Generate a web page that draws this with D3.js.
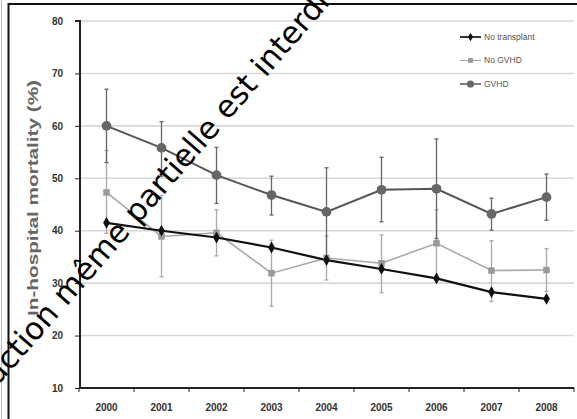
<!DOCTYPE html>
<html>
<head>
<meta charset="utf-8">
<script src="https://cdn.jsdelivr.net/npm/d3@7"></script>
<style>
	body { margin: 0; background: #fff; }
	svg { display: block; }
</style>
</head>
<body>
<div id="chart"></div>
<script>
//--------------------------------------------------
// data
//--------------------------------------------------

var years = ["2000", "2001", "2002", "2003", "2004", "2005", "2006", "2007", "2008"]
var yTicks = [10, 20, 30, 40, 50, 60, 70, 80]
var seriesNames = ["No transplant", "No GVHD", "GVHD"]

var noTransplant = [41.5, 40.0, 38.7, 36.8, 34.4, 32.7, 30.9, 28.3, 27.0]

var noGvhd     = [47.3, 38.9, 39.6, 31.9, 34.8, 33.8, 37.6, 32.4, 32.5]
var noGvhdLow  = [39.5, 31.2, 35.2, 25.6, 30.6, 28.2, 31.0, 26.5, 28.4]
var noGvhdHigh = [55.3, 46.7, 44.0, 38.2, 39.0, 39.2, 44.0, 38.1, 36.6]

var gvhd     = [60.0, 55.8, 50.6, 46.8, 43.6, 47.8, 48.0, 43.2, 46.4]
var gvhdLow  = [53.0, 50.4, 45.2, 43.0, 35.2, 41.7, 38.5, 40.1, 42.0]
var gvhdHigh = [67.0, 60.8, 55.9, 50.4, 52.0, 54.0, 57.5, 46.2, 50.8]

var watermark = ["Reprodu", "ction même partielle est interdite"]

//--------------------------------------------------
// svg and scales
//--------------------------------------------------

var width = 577,
	height = 419

var svg = d3.select("#chart").append("svg")
	.attr("width", width)
	.attr("height", height)

var x = d3.scaleBand()
	.domain(years)
	.range([79, 574])

var y = d3.scaleLinear()
	.domain([10, 80])
	.range([388, 21])

// frame of the scanned figure
svg.append("line")
	.attr("x1", 1.5).attr("x2", 1.5).attr("y1", 0).attr("y2", height)
	.style("stroke", "#bbb").style("stroke-width", 1)
svg.append("line")
	.attr("x1", 8).attr("x2", width).attr("y1", 4).attr("y2", 4)
	.style("stroke", "#111").style("stroke-width", 2)
svg.append("line")
	.attr("x1", 8.5).attr("x2", 8.5).attr("y1", 3).attr("y2", height)
	.style("stroke", "#111").style("stroke-width", 2)

// gridlines
svg.append("g")
	.selectAll("line")
	.data(yTicks.filter(function(d) { return d > 10 }))
	.enter()
	.append("line")
	.attr("x1", 80)
	.attr("x2", 574)
	.attr("y1", function(d) { return y(d) })
	.attr("y2", function(d) { return y(d) })
	.style("stroke", "#d8d8d8")
	.style("stroke-width", 1.6)

//--------------------------------------------------
// axes
//--------------------------------------------------

var yAxis = svg.append("g")
	.attr("transform", "translate(80,0)")
	.call(d3.axisLeft(y).tickValues(yTicks).tickSize(5).tickPadding(12))

var xAxis = svg.append("g")
	.attr("transform", "translate(0,388)")
	.call(d3.axisBottom(x).tickSize(0).tickPadding(16))

// tick marks between the categories
xAxis.selectAll(".sep")
	.data(years.concat(["end"]))
	.enter()
	.append("line")
	.attr("class", "sep")
	.attr("x1", function(d, i) { return 79 + i * x.step() })
	.attr("x2", function(d, i) { return 79 + i * x.step() })
	.attr("y1", 0)
	.attr("y2", 4)
	.style("stroke", "#222")

svg.selectAll(".domain")
	.style("stroke", "#222")
	.style("stroke-width", 2)
yAxis.select(".domain").attr("d", "M-5,21H0V388")
xAxis.select(".domain").attr("d", "M79,0H574")

svg.selectAll(".tick text")
	.style("font-family", "Liberation Sans, Arial, sans-serif")
	.style("font-weight", "bold")
	.style("font-size", "10px")
	.style("fill", "#333")
yAxis.selectAll(".tick line").style("stroke", "#222")

svg.append("text")
	.attr("transform", "translate(38,198) rotate(-90)")
	.attr("text-anchor", "middle")
	.attr("textLength", 236)
	.attr("lengthAdjust", "spacingAndGlyphs")
	.style("font-family", "Liberation Sans, Arial, sans-serif")
	.style("font-weight", "bold")
	.style("font-size", "14px")
	.style("fill", "#666")
	.text("In-hospital mortality (%)")

//--------------------------------------------------
// series
//--------------------------------------------------

function cx(i) { return x(years[i]) + x.bandwidth() / 2 }

function errorBars(low, high, colour) {
	var g = svg.append("g")
	var bars = g.selectAll("g")
		.data(years)
		.enter()
		.append("g")
	bars.append("line")
		.attr("x1", function(d, i) { return cx(i) })
		.attr("x2", function(d, i) { return cx(i) })
		.attr("y1", function(d, i) { return y(low[i]) })
		.attr("y2", function(d, i) { return y(high[i]) })
		.style("stroke", colour)
		.style("stroke-width", 1.3)
	bars.selectAll(".cap")
		.data(function(d, i) { return [low[i], high[i]].map(function(v) { return {i: i, v: v} }) })
		.enter()
		.append("line")
		.attr("class", "cap")
		.attr("x1", function(d) { return cx(d.i) - 2 })
		.attr("x2", function(d) { return cx(d.i) + 2 })
		.attr("y1", function(d) { return y(d.v) })
		.attr("y2", function(d) { return y(d.v) })
		.style("stroke", colour)
		.style("stroke-width", 1.3)
}

errorBars(noGvhdLow, noGvhdHigh, "#aaa")
errorBars(gvhdLow, gvhdHigh, "#666")

var line = d3.line()
	.x(function(d, i) { return cx(i) })
	.y(function(d) { return y(d) })

var series = [
	{name: seriesNames[0], values: noTransplant, stroke: "#111", fill: "#111", symbol: d3.symbolDiamond, size: 40, w: 2.2},
	{name: seriesNames[1], values: noGvhd, stroke: "#a8a8a8", fill: "#999", symbol: d3.symbolSquare, size: 42, w: 1.6},
	{name: seriesNames[2], values: gvhd, stroke: "#555", fill: "#666", symbol: d3.symbolCircle, size: 75, w: 2}
]

// draw back to front: GVHD, No GVHD, No transplant
series.slice().reverse().forEach(function(s) {
	svg.append("path")
		.datum(s.values)
		.attr("d", line)
		.style("fill", "none")
		.style("stroke", s.stroke)
		.style("stroke-width", s.w)
})
series.slice().reverse().forEach(function(s) {
	svg.append("g")
		.selectAll("path")
		.data(s.values)
		.enter()
		.append("path")
		.attr("d", d3.symbol().type(s.symbol).size(s.size))
		.attr("transform", function(d, i) { return "translate(" + cx(i) + "," + y(d) + ")" })
		.style("fill", s.fill)
})

//--------------------------------------------------
// legend
//--------------------------------------------------

var legend = svg.append("g")
	.selectAll("g")
	.data(series)
	.enter()
	.append("g")
	.attr("transform", function(d, i) { return "translate(460," + (37 + i * 23.5) + ")" })

legend.append("line")
	.attr("x1", 0).attr("x2", 21)
	.style("stroke", function(d) { return d.stroke })
	.style("stroke-width", function(d) { return d.w - 0.5 })
legend.append("path")
	.attr("d", function(d) { return d3.symbol().type(d.symbol).size(d.size * 0.55)() })
	.attr("transform", "translate(10.5,0)")
	.style("fill", function(d) { return d.fill })
legend.append("text")
	.attr("x", 24)
	.attr("dy", "0.35em")
	.style("font-family", "Liberation Sans, Arial, sans-serif")
	.style("font-size", "8.5px")
	.style("fill", "#555")
	.text(function(d) { return d.name })

//--------------------------------------------------
// watermark over the scan
//--------------------------------------------------

var wm = svg.append("text")
	.style("font-family", "DejaVu Sans, sans-serif")
	.style("font-size", "31px")
	.style("fill", "#000")
var pre = wm.append("tspan").text(watermark[0])
wm.append("tspan").text(watermark[1])
var off = pre.node().getComputedTextLength()
wm.attr("transform", "translate(10,372) rotate(-49) translate(" + (-off) + ",0)")
</script>
</body>
</html>
